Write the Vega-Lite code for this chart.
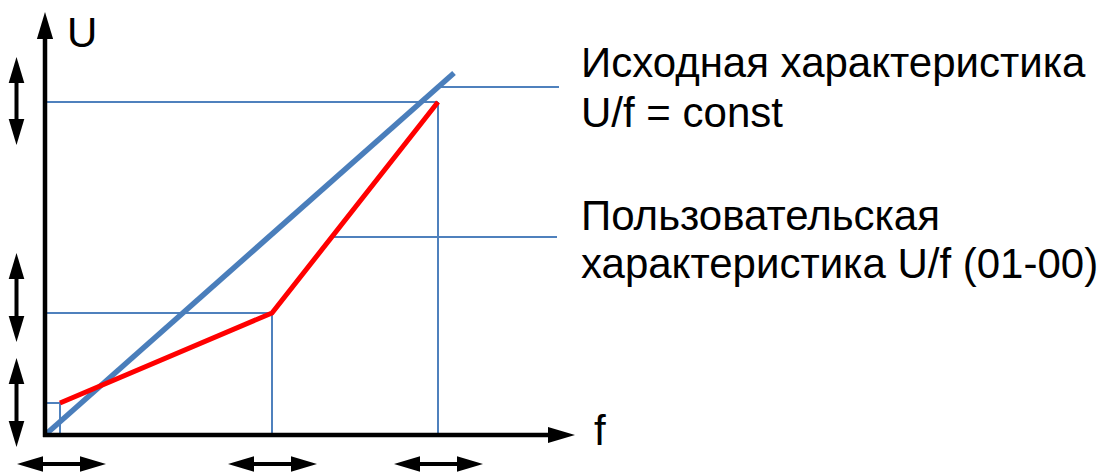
{
  "$schema": "https://vega.github.io/schema/vega-lite/v6.json",
  "width": 1107,
  "height": 474,
  "autosize": "none",
  "padding": 0,
  "background": "white",
  "config": {"view": {"stroke": null}},
  "datasets": {
    "uf_const": [{"f": 0, "U": 0}, {"f": 409, "U": 362}],
    "uf_user": [{"f": 15, "U": 32}, {"f": 227, "U": 122}, {"f": 393, "U": 333}],
    "guides": [
      {"f": 0, "U": 333, "f2": 393, "U2": 333},
      {"f": 393, "U": 0, "f2": 393, "U2": 333},
      {"f": 0, "U": 122, "f2": 227, "U2": 122},
      {"f": 227, "U": 0, "f2": 227, "U2": 122},
      {"f": 0, "U": 32, "f2": 15, "U2": 32},
      {"f": 15, "U": 0, "f2": 15, "U2": 32},
      {"f": 393, "U": 348, "f2": 514, "U2": 348},
      {"f": 288, "U": 198, "f2": 512, "U2": 198}
    ],
    "axes": [
      {"f": 0, "U": -2, "f2": 0, "U2": 402},
      {"f": -2, "U": 0, "f2": 505, "U2": 0}
    ],
    "axis_heads": [
      {"f": 0, "U": 423, "dir": "up"},
      {"f": 530, "U": 0, "dir": "right"}
    ],
    "dims": [
      {"f": -28.5, "U": 370, "f2": -28.5, "U2": 298},
      {"f": -28.5, "U": 174, "f2": -28.5, "U2": 101},
      {"f": -28.5, "U": 69, "f2": -28.5, "U2": -4},
      {"f": -20, "U": -29, "f2": 53, "U2": -29},
      {"f": 191, "U": -29, "f2": 264, "U2": -29},
      {"f": 357, "U": -29, "f2": 430, "U2": -29}
    ],
    "dim_heads": [
      {"f": -28.5, "U": 378, "dir": "up"},
      {"f": -28.5, "U": 290, "dir": "down"},
      {"f": -28.5, "U": 182, "dir": "up"},
      {"f": -28.5, "U": 93, "dir": "down"},
      {"f": -28.5, "U": 77, "dir": "up"},
      {"f": -28.5, "U": -12, "dir": "down"},
      {"f": -28, "U": -29, "dir": "left"},
      {"f": 61, "U": -29, "dir": "right"},
      {"f": 183, "U": -29, "dir": "left"},
      {"f": 272, "U": -29, "dir": "right"},
      {"f": 349, "U": -29, "dir": "left"},
      {"f": 438, "U": -29, "dir": "right"}
    ],
    "labels": [
      {"f": 22, "U": 388, "text": "U"},
      {"f": 549, "U": -10, "text": "f"},
      {"f": 536, "U": 358, "text": "Исходная характеристика"},
      {"f": 536, "U": 308, "text": "U/f = const"},
      {"f": 536, "U": 205, "text": "Пользовательская"},
      {"f": 536, "U": 157, "text": "характеристика U/f (01-00)"}
    ]
  },
  "encoding": {
    "x": {"field": "f", "type": "quantitative", "scale": {"domain": [-45, 1062], "nice": false, "zero": false}, "axis": null},
    "y": {"field": "U", "type": "quantitative", "scale": {"domain": [-39, 435], "nice": false, "zero": false}, "axis": null}
  },
  "layer": [
    {
      "data": {"name": "guides"},
      "mark": {"type": "rule", "color": "#4F81BD", "strokeWidth": 2},
      "encoding": {"x2": {"field": "f2"}, "y2": {"field": "U2"}}
    },
    {
      "data": {"name": "uf_const"},
      "mark": {"type": "line", "color": "#4A7EBB", "strokeWidth": 5.5, "strokeCap": "butt"},
      "encoding": {}
    },
    {
      "data": {"name": "uf_user"},
      "mark": {"type": "line", "color": "#FF0000", "strokeWidth": 5, "strokeCap": "butt", "strokeJoin": "miter"},
      "encoding": {}
    },
    {
      "data": {"name": "axes"},
      "mark": {"type": "rule", "color": "#000000", "strokeWidth": 4.5},
      "encoding": {"x2": {"field": "f2"}, "y2": {"field": "U2"}}
    },
    {
      "data": {"name": "dims"},
      "mark": {"type": "rule", "color": "#000000", "strokeWidth": 4},
      "encoding": {"x2": {"field": "f2"}, "y2": {"field": "U2"}}
    },
    {
      "data": {"name": "axis_heads"},
      "mark": {"type": "point", "filled": true, "color": "#000000", "opacity": 1, "strokeWidth": 0, "size": 729},
      "encoding": {
        "shape": {"field": "dir", "type": "nominal", "legend": null,
          "scale": {"domain": ["up", "down", "left", "right"],
            "range": ["M0,0L0.6,2L-0.6,2Z", "M0,0L0.6,-2L-0.6,-2Z", "M0,0L2,0.6L2,-0.6Z", "M0,0L-2,0.6L-2,-0.6Z"]}}
      }
    },
    {
      "data": {"name": "dim_heads"},
      "mark": {"type": "point", "filled": true, "color": "#000000", "opacity": 1, "strokeWidth": 0, "size": 676},
      "encoding": {
        "shape": {"field": "dir", "type": "nominal", "legend": null,
          "scale": {"domain": ["up", "down", "left", "right"],
            "range": ["M0,0L0.68,2L-0.68,2Z", "M0,0L0.68,-2L-0.68,-2Z", "M0,0L2,0.68L2,-0.68Z", "M0,0L-2,0.68L-2,-0.68Z"]}}
      }
    },
    {
      "data": {"name": "labels"},
      "mark": {"type": "text", "align": "left", "baseline": "alphabetic", "font": "Liberation Sans", "fontSize": 42, "color": "#000000"},
      "encoding": {"text": {"field": "text", "type": "nominal"}}
    }
  ]
}
